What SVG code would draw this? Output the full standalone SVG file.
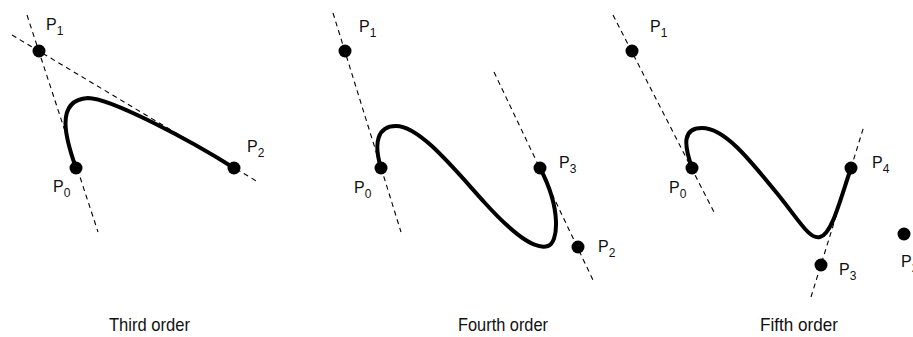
<svg xmlns="http://www.w3.org/2000/svg" width="913" height="337" viewBox="0 0 913 337">
<style>
.dash{stroke:#000;stroke-width:1.1;stroke-dasharray:5 4;fill:none}
.curve{stroke:#000;stroke-width:4;fill:none;stroke-linecap:round;stroke-linejoin:round}
.pt{fill:#000}
.lbl{font-family:"Liberation Sans",Arial,sans-serif;font-size:16px;fill:#111}
.sub{font-size:12px}
.cap{font-family:"Liberation Sans",Arial,sans-serif;font-size:19px;fill:#111}
</style>
<rect width="913" height="337" fill="#fff"/>
<g id="connectors">
  <line class="dash" x1="27" y1="15" x2="98" y2="232"/>
  <line class="dash" x1="12" y1="35" x2="258" y2="182"/>
  <line class="dash" x1="333" y1="13" x2="401" y2="232"/>
  <line class="dash" x1="494" y1="72" x2="593" y2="280"/>
  <line class="dash" x1="613" y1="15" x2="714" y2="212"/>
  <line class="dash" x1="811" y1="297" x2="864" y2="126"/>
  <path class="curve" d="M76,168 C66,140 54,100 88,98 C110,98 190,140 234,168"/>
  <path class="curve" d="M381,168 C373,142 378,126 396,126 C420,126 455,170 485,203 C515,236 535,250 548,246 C558,243 562,210 540,168"/>
  <path class="curve" d="M692,168 C684,145 682,128 702,128 C725,128 750,160 780,197 C800,222 810,240 820,237 C832,234 840,200 851,168"/>
</g>
<g id="third-P0"><circle class="pt" cx="76" cy="168" r="6.5"/><text class="lbl" x="53" y="192">P<tspan class="sub" dy="5">0</tspan></text></g>
<g id="third-P1"><circle class="pt" cx="39" cy="51" r="6.5"/><text class="lbl" x="46" y="30">P<tspan class="sub" dy="5">1</tspan></text></g>
<g id="third-P2"><circle class="pt" cx="234" cy="168" r="6.5"/><text class="lbl" x="247" y="152">P<tspan class="sub" dy="5">2</tspan></text></g>
<g id="fourth-P0"><circle class="pt" cx="381" cy="168" r="6.5"/><text class="lbl" x="354" y="193">P<tspan class="sub" dy="5">0</tspan></text></g>
<g id="fourth-P1"><circle class="pt" cx="345" cy="51" r="6.5"/><text class="lbl" x="359" y="32">P<tspan class="sub" dy="5">1</tspan></text></g>
<g id="fourth-P2"><circle class="pt" cx="578" cy="247" r="6.5"/><text class="lbl" x="598" y="252">P<tspan class="sub" dy="5">2</tspan></text></g>
<g id="fourth-P3"><circle class="pt" cx="540" cy="168" r="6.5"/><text class="lbl" x="559" y="168">P<tspan class="sub" dy="5">3</tspan></text></g>
<g id="fifth-P0"><circle class="pt" cx="692" cy="168" r="6.5"/><text class="lbl" x="669" y="193">P<tspan class="sub" dy="5">0</tspan></text></g>
<g id="fifth-P1"><circle class="pt" cx="632" cy="51" r="6.5"/><text class="lbl" x="650" y="32">P<tspan class="sub" dy="5">1</tspan></text></g>
<g id="fifth-P2"><circle class="pt" cx="904" cy="234" r="6.5"/><text class="lbl" x="901" y="267">P<tspan class="sub" dy="5">2</tspan></text></g>
<g id="fifth-P3"><circle class="pt" cx="821" cy="265" r="6.5"/><text class="lbl" x="839" y="275">P<tspan class="sub" dy="5">3</tspan></text></g>
<g id="fifth-P4"><circle class="pt" cx="851" cy="168" r="6.5"/><text class="lbl" x="872" y="168">P<tspan class="sub" dy="5">4</tspan></text></g>
<g id="captions">
  <text class="cap" x="109" y="331" textLength="81" lengthAdjust="spacingAndGlyphs">Third order</text>
  <text class="cap" x="458" y="331" textLength="90" lengthAdjust="spacingAndGlyphs">Fourth order</text>
  <text class="cap" x="760" y="331" textLength="78" lengthAdjust="spacingAndGlyphs">Fifth order</text>
</g>
</svg>
